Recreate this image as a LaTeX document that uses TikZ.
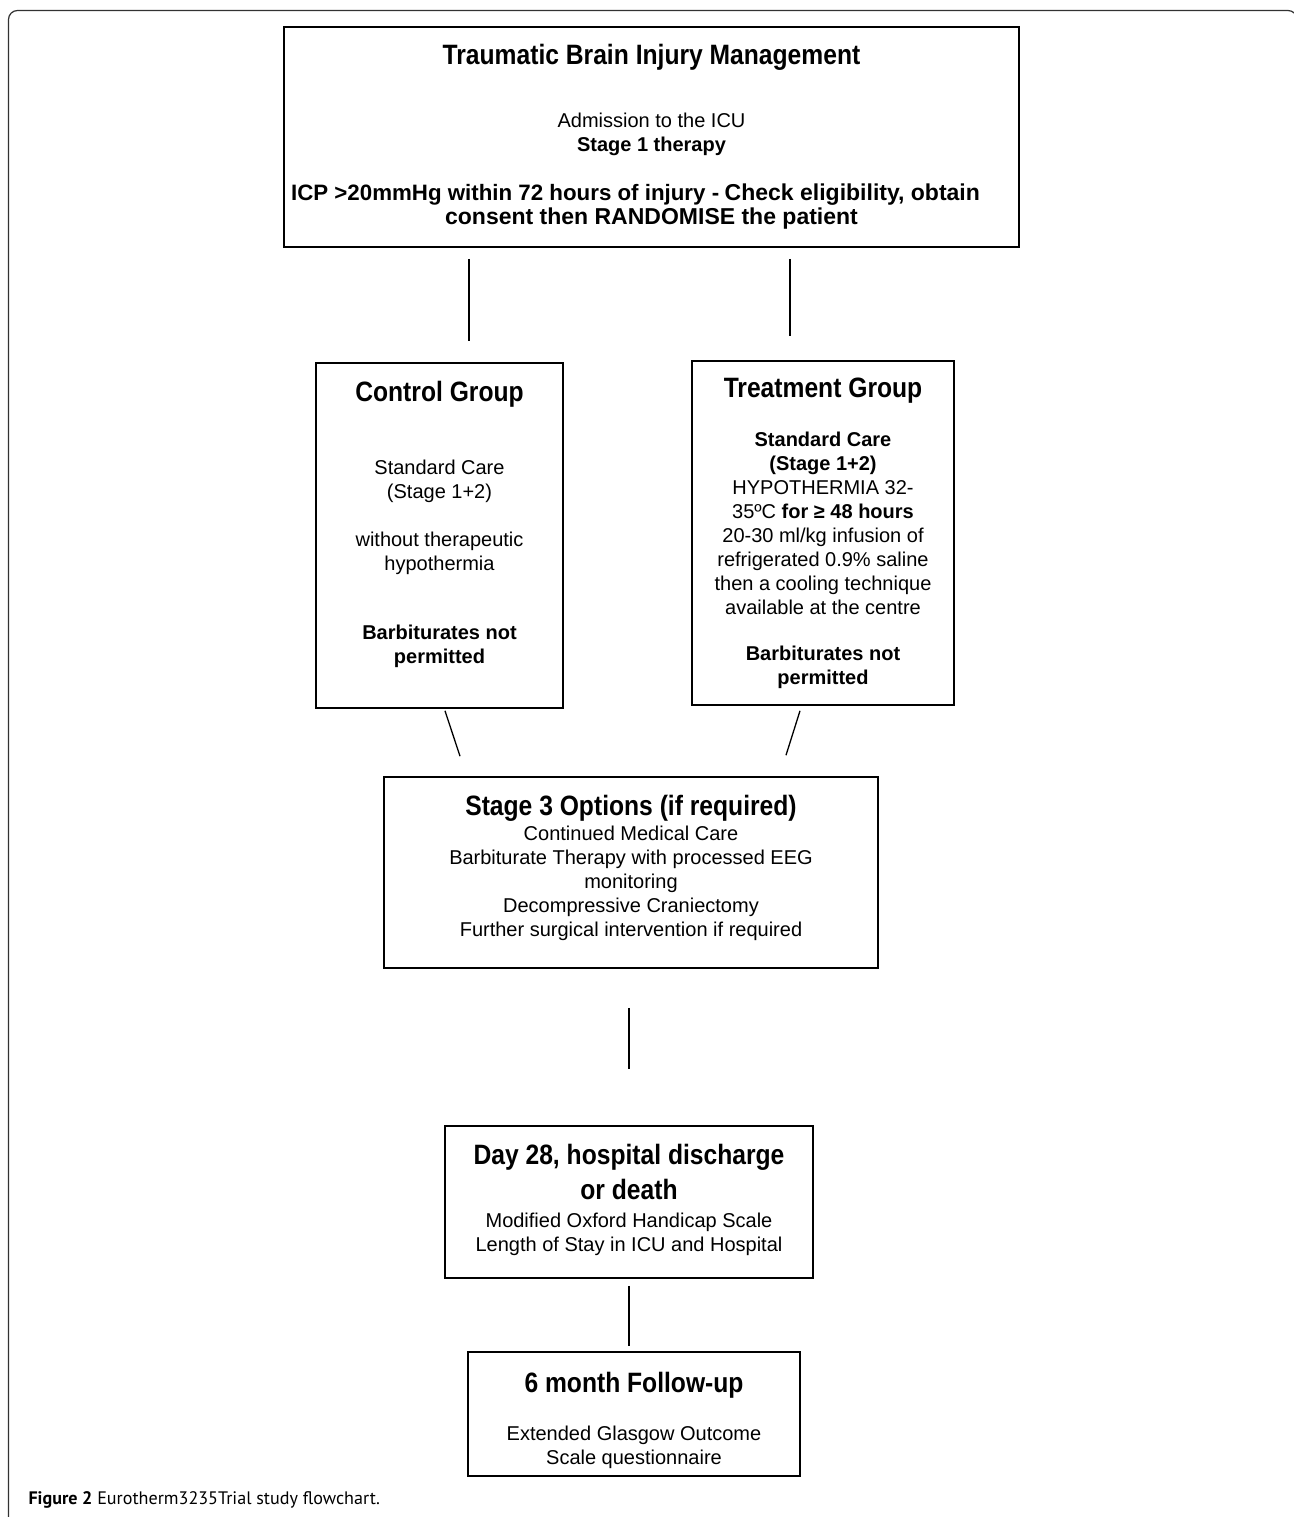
\documentclass[tikz,border=0pt]{standalone}
\usepackage{fontspec}
\setmainfont{Liberation Sans}
\newfontfamily\titlefont[FakeStretch=0.88]{Liberation Sans}
\newfontfamily\capfont{PT Sans}
\tikzset{
  box/.style={draw, line width=1.6pt, inner sep=0pt, align=center, font=\fontsize{20}{24}\selectfont},
  link/.style={line width=1.3pt},
}
\newcommand{\boxtitle}[1]{{\titlefont\fontsize{28}{30}\selectfont\bfseries #1}}

\begin{document}
\begin{tikzpicture}[x=1pt,y=1pt,yscale=-1,xscale=1]
\useasboundingbox (0,0) rectangle (1293,1517);

%Shape: Frame
\draw [color={rgb, 255:red, 50; green, 50; blue, 50 }, line width=1.2pt, rounded corners=9pt] (8.5,1530) -- (8.5,10.5) -- (1297,10.5) -- (1297,1530);

%Shape: Rectangle [top]
\node [box, minimum width=735pt, minimum height=220pt] (tbi) at (651.5,137) {\boxtitle{Traumatic Brain Injury Management}\\[39pt]
Admission to the ICU\\
\textbf{Stage 1 therapy}\\[25pt]
\textbf{{\fontsize{22.3}{24}\selectfont ICP >20mmHg within 72 hours of injury -} {\fontsize{23}{24}\selectfont Check eligibility, obtain}}\rule{32pt}{0pt}\\
{\fontsize{23}{24}\selectfont\bfseries consent then RANDOMISE the patient}};

%Shape: Rectangle [control]
\node [box, minimum width=247pt, minimum height=345pt] (ctrl) at (439.5,535.5) {\boxtitle{Control Group}\\[49pt]
Standard Care\\
(Stage 1+2)\\[24pt]
without therapeutic\\
hypothermia\\[45pt]
\textbf{Barbiturates not}\\
\textbf{permitted}\rule[-26pt]{0pt}{26pt}};

%Shape: Rectangle [treatment]
\node [box, minimum width=262pt, minimum height=344pt] (treat) at (823,533) {\boxtitle{Treatment Group}\\[25pt]
\textbf{Standard Care}\\
\textbf{(Stage 1+2)}\\
HYPOTHERMIA 32-\\
35ºC \textbf{for ≥ 48 hours}\\
20-30 ml/kg infusion of\\
refrigerated 0.9\% saline\\
then a cooling technique\\
available at the centre\\[22pt]
\textbf{Barbiturates not}\\
\textbf{permitted}};

%Shape: Rectangle [stage 3]
\node [box, minimum width=494pt, minimum height=191pt] (stage3) at (631,872.5) {\boxtitle{Stage 3 Options (if required)}\\[1pt]
Continued Medical Care\\
Barbiturate Therapy with processed EEG\\
monitoring\\
Decompressive Craniectomy\\
Further surgical intervention if required\rule[-14pt]{0pt}{14pt}};

%Shape: Rectangle [day 28]
\node [box, minimum width=368pt, minimum height=152pt] (day28) at (629,1202) {\boxtitle{Day 28, hospital discharge}\\[8pt]
\boxtitle{or death}\\[4pt]
Modified Oxford Handicap Scale\\
Length of Stay in ICU and Hospital\rule[-8pt]{0pt}{8pt}};

%Shape: Rectangle [follow-up]
\node [box, minimum width=332pt, minimum height=124pt] (fu) at (634,1414) {\rule{0pt}{34pt}\boxtitle{6 month Follow-up}\\[24pt]
Extended Glasgow Outcome\\
Scale questionnaire};

% Connectors
\draw [link, shorten <=11pt, shorten >=21pt] (tbi.south -| 469,0) -- (ctrl.north -| 469,0);
\draw [link, shorten <=11pt, shorten >=24pt] (tbi.south -| 790,0) -- (treat.north -| 790,0);
\draw [link] ([xshift=5.5pt,yshift=2pt]ctrl.south) -- ([xshift=-171pt,yshift=-20pt]stage3.north);
\draw [link] ([xshift=-23pt,yshift=5pt]treat.south) -- ([xshift=155pt,yshift=-21pt]stage3.north);
\draw [link, shorten <=39pt, shorten >=56pt] (day28.north |- stage3.south) -- (day28.north);
\draw [link, shorten <=7pt, shorten >=5pt] (day28.south) -- (day28.south |- fu.north);

% Text Node
\node [anchor=base west, font=\capfont\fontsize{18.1}{22}\selectfont] (caption) at (25,1504) {\textbf{Figure 2} Eurotherm3235Trial study flowchart.};

\end{tikzpicture}
\end{document}
